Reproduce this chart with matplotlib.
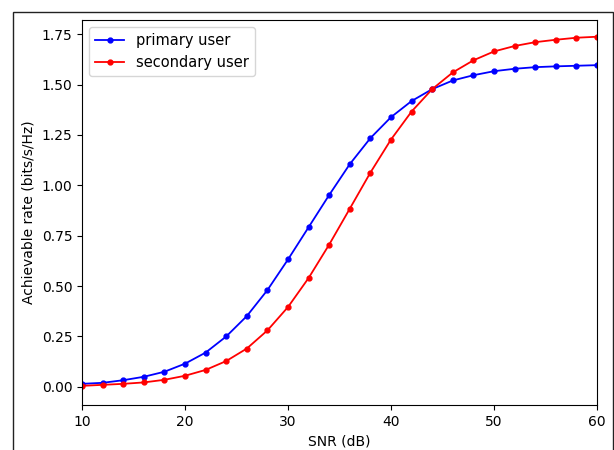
import matplotlib
matplotlib.use("Agg")
import matplotlib.pyplot as plt
from matplotlib.patches import Rectangle

snr_db = [10, 12, 14, 16, 18, 20, 22, 24, 26, 28, 30, 32, 34, 36, 38, 40,
          42, 44, 46, 48, 50, 52, 54, 56, 58, 60]
primary_rate = [0.015, 0.02, 0.033, 0.05, 0.075, 0.115, 0.17, 0.25, 0.351, 0.48,
                0.632, 0.792, 0.952, 1.105, 1.234, 1.338, 1.418, 1.477, 1.52,
                1.546, 1.566, 1.578, 1.586, 1.59, 1.593, 1.596]
secondary_rate = [0.005, 0.01, 0.015, 0.022, 0.035, 0.055, 0.084, 0.128, 0.19,
                  0.28, 0.396, 0.54, 0.706, 0.884, 1.063, 1.227, 1.366, 1.477,
                  1.56, 1.62, 1.664, 1.691, 1.71, 1.722, 1.732, 1.737]
series_labels = ["primary user", "secondary user"]

fig = plt.figure(figsize=(6.14, 4.5), dpi=100)
ax = fig.add_axes([82 / 614, 1 - 405 / 450, (597 - 82) / 614, (405 - 20) / 450])

ax.plot(snr_db, primary_rate, color="blue", marker="o", markersize=3.5,
        linewidth=1.3, label=series_labels[0])
ax.plot(snr_db, secondary_rate, color="red", marker="o", markersize=3.5,
        linewidth=1.3, label=series_labels[1])

ax.set_xlim(10, 60)
ax.set_ylim(-0.09, 1.82)
ax.set_yticks([0.0, 0.25, 0.5, 0.75, 1.0, 1.25, 1.5, 1.75])
ax.set_xlabel("SNR (dB)")
ax.set_ylabel("Achievable rate (bits/s/Hz)")
ax.legend(loc="upper left", fontsize=10.5)

# outer screenshot frame
frame = Rectangle((13 / 614, -0.2), (613 - 13) / 614, 1.2 - 12 / 450,
                  transform=fig.transFigure, fill=False, edgecolor="#222222",
                  linewidth=1.0, clip_on=False)
fig.patches.append(frame)

fig.savefig("out.png", dpi=100)
